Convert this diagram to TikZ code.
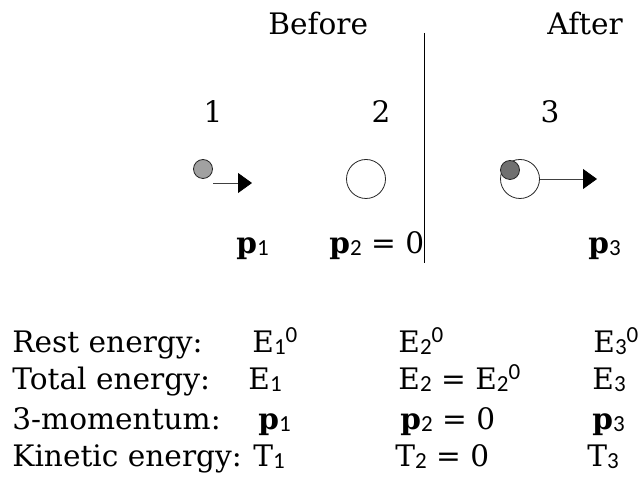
\documentclass[tikz,border=0pt]{standalone}
\usepackage{fontspec}
\setmainfont{DejaVu Serif}
\newfontfamily\subfont{Carlito}
\usetikzlibrary{arrows.meta}
\newcommand\lo[1]{\raisebox{-0.7pt}{\subfont\fontsize{11.5}{11.5}\selectfont #1}}
\newcommand\hi[1]{\raisebox{5pt}{\subfont\fontsize{11.5}{11.5}\selectfont #1}}

\begin{document}
\begin{tikzpicture}[x=0.5pt, y=-0.5pt,
        lbl/.style={anchor=base west, inner sep=0pt, font=\fontsize{14.8}{18}\selectfont},
        num/.style={anchor=base, inner sep=0pt, font=\fontsize{14.8}{18}\selectfont},
        ball/.style={circle, draw=black!85, thin, inner sep=0pt},
        push/.style={-{Triangle[length=7pt, width=10pt, color=black]}, draw=black!75, thin}
    ]
    \useasboundingbox (0,0) rectangle (643,480);

    % headings and divider
    \node[lbl] (before) at (268,35) {Before};
    \node[lbl] (after) at (547,35) {After};
    \draw[thin] (424,33) -- (424,263);

    \node[num] (n1) at (213,123) {1};
    \node[num] (n2) at (381,123) {2};
    \node[num] (n3) at (550,123) {3};

    % particles
    \node[ball, fill=black!37, minimum size=9.5pt] (b1) at (203,169) {};
    \node[ball, fill=white, minimum size=19.5pt] (b2) at (366,179) {};
    \node[ball, fill=white, minimum size=19.5pt] (b3) at (520,179) {};
    \node[ball, fill=black!56, minimum size=9.5pt] (b3s) at (510,170) {};

    \coordinate (a1s) at (213,183);
    \coordinate (a1e) at (252,183);
    \coordinate (a3e) at (597,179);
    \draw[push] (a1s) -- (a1e);
    \draw[push] (b3.east) -- (a3e);

    \node[lbl] (p1) at (236,254) {\textbf{p}\lo{1}};
    \node[lbl] (p2) at (329,254) {\textbf{p}\lo{2} = 0};
    \node[lbl] (p3) at (588,254) {\textbf{p}\lo{3}};

    % table
    \node[lbl] (rest) at (12,353) {Rest energy:};
    \node[lbl] (rest1) at (252,353) {E\lo{1}\hi{0}};
    \node[lbl] (rest2) at (398,353) {E\lo{2}\hi{0}};
    \node[lbl] (rest3) at (593,353) {E\lo{3}\hi{0}};

    \node[lbl] (tot) at (12,390) {Total energy:};
    \node[lbl] (tot1) at (248,390) {E\lo{1}};
    \node[lbl] (tot2) at (398,390) {E\lo{2} = E\lo{2}\hi{0}};
    \node[lbl] (tot3) at (592,390) {E\lo{3}};

    \node[lbl] (mom) at (12,430) {3-momentum:};
    \node[lbl] (mom1) at (258,430) {\textbf{p}\lo{1}};
    \node[lbl] (mom2) at (400,430) {\textbf{p}\lo{2} = 0};
    \node[lbl] (mom3) at (592,430) {\textbf{p}\lo{3}};

    \node[lbl] (kin) at (12,467) {Kinetic energy:};
    \node[lbl] (kin1) at (253,467) {T\lo{1}};
    \node[lbl] (kin2) at (395,467) {T\lo{2} = 0};
    \node[lbl] (kin3) at (587,467) {T\lo{3}};
\end{tikzpicture}
\end{document}
